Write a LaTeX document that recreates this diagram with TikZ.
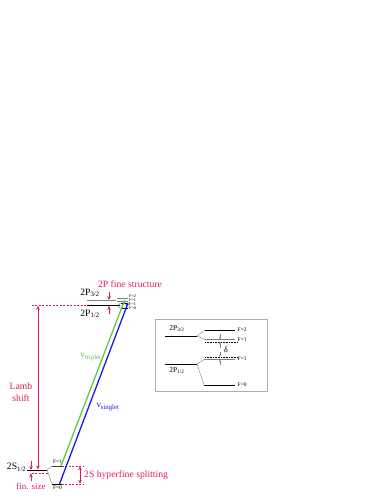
\documentclass[tikz,border=0pt]{standalone}
\usepackage{fontspec}
\setmainfont{Liberation Serif}
\usetikzlibrary{arrows.meta}
\definecolor{lambred}{RGB}{218,32,82}
\definecolor{trigreen}{RGB}{95,200,70}
\definecolor{singblue}{RGB}{25,25,235}
\definecolor{boxgray}{RGB}{175,175,175}
\begin{document}
\begin{tikzpicture}[x=1bp,y=-1bp,
    lvl/.style={line width=0.8pt},
    lvlgray/.style={line width=0.9pt,gray},
    split/.style={line width=0.4pt,gray},
    reddash/.style={dashed,dash pattern=on 2pt off 1.5pt,lambred,line width=0.5pt},
    redarr/.style={lambred,line width=0.7pt,-{Stealth[length=4pt,width=3.6pt]}},
    redboth/.style={lambred,line width=0.7pt,{Stealth[length=4pt,width=3.6pt]}-{Stealth[length=4pt,width=3.6pt]}},
    grayarr/.style={gray,line width=0.4pt,-{Stealth[length=2pt,width=1.8pt]}},
    trans/.style={line width=1.3pt,-{Latex[length=4pt,width=3.2pt]}},
    txt/.style={inner sep=0pt,font=\fontsize{9.7}{11.6}\selectfont},
    flab/.style={inner sep=0pt,font=\fontsize{4.3}{5}\selectfont},
    flabin/.style={inner sep=0pt,font=\fontsize{5.5}{6}\selectfont,anchor=west}]
    \useasboundingbox (0,0) rectangle (385,498);
    \node[txt,text=lambred] (fstitle) at (130,284.5) {2P fine structure};
    \node[txt] (p32lab) at (90,293) {2P\textsubscript{3/2}};
    \node[txt] (p12lab) at (90,314) {2P\textsubscript{1/2}};
    \draw[lvlgray] (87,300) -- (116,300);
    \draw[lvlgray] (117,298.6) coordinate (p32f2a) -- (128,298.6) coordinate (p32f2);
    \draw[lvlgray] (117,301.3) coordinate (p32f1a) -- (128,301.3) coordinate (p32f1);
    \draw[lvl] (87,305.5) -- (120,305.5);
    \draw[split] (120,305.5) .. controls (118,304) .. (121,303.8) -- (128,303.8);
    \draw[split] (120,305.5) .. controls (118,307.8) .. (121,308) -- (128,308);
    \draw[lvl] (121,303.8) -- (128,303.8);
    \draw[lvl] (121,308) -- (128,308);
    \node[flab,anchor=west] (lf2a) at (129,296.3) {F=2};
    \node[flab,anchor=west] (lf1a) at (129,300) {F=1};
    \node[flab,anchor=west] (lf1b) at (129,303.7) {F=1};
    \node[flab,anchor=west] (lf0b) at (129,307.6) {F=0};
    \draw[redarr] (109,291.5) -- (109,300);
    \draw[redarr] (109,313.5) -- (109,305.8);
    \draw[reddash] (32,305.5) -- (87,305.5);
    \draw[redboth] (38,305.8) -- (38,469.5);
    \node[txt,text=lambred,align=center] (lamb) at (21,392) {Lamb\\shift};
    \coordinate (s12a) at (27,470);
    \coordinate (s12b) at (47,470);
    \draw[lvl] (s12a) -- (s12b);
    \node[txt,anchor=east] (s12lab) at (26.5,467.5) {2S\textsubscript{1/2}};
    \draw[split] (s12b) -- (52,466);
    \draw[split] (s12b) -- (52,484);
    \draw[lvl,darkgray] (52,466) -- (62,466) coordinate (sf1);
    \draw[lvl] (52,484) -- (62,484) coordinate (sf0);
    \node[flab,font=\fontsize{5.5}{6}\selectfont] (lsf1) at (57.5,462) {F=1};
    \node[flab,font=\fontsize{5.5}{6}\selectfont] (lsf0) at (57.5,488) {F=0};
    \draw[reddash] (32,473) -- (48,473);
    \draw[redarr] (31,461) -- (31,470);
    \draw[redarr] (31,481) -- (31,473.3);
    \node[txt,text=lambred,font=\fontsize{9}{10}\selectfont] (finsize) at (31,486.5) {fin. size};
    \draw[reddash] (sf1) -- (83,466);
    \draw[reddash] (sf0) -- (83,484);
    \draw[redboth] (80,466.3) -- (80,483.7);
    \node[txt,text=lambred,anchor=west] (hfslab) at (84,475) {2S hyperfine splitting};
    \draw[trans,trigreen] (61,466) -- (125,299.2);
    \draw[trans,singblue] (59.5,484) -- (128.5,301.8);
    \node[txt,text=trigreen] (nutrip) at (91,357) {ν\textsubscript{triplet}};
    \node[txt,text=singblue] (nusing) at (108,407) {ν\textsubscript{singlet}};
    \draw[boxgray,line width=0.6pt] (155,319) rectangle (267,391);
    \node[txt,font=\fontsize{7.5}{9}\selectfont] (ip32lab) at (177,329) {2P\textsubscript{3/2}};
    \node[txt,font=\fontsize{7.5}{9}\selectfont] (ip12lab) at (177,371) {2P\textsubscript{1/2}};
    \draw[lvl] (165,336) -- (197,336);
    \draw[split] (197,336) -- (205,330);
    \draw[split] (197,336) -- (205,339.5);
    \draw[lvl] (205,330) -- (235,330);
    \draw[lvlgray,line width=1.1pt] (205,339.5) -- (235,339.5);
    \draw[densely dotted,line width=0.6pt] (205,342) -- (237,342);
    \draw[grayarr] (220,333.5) -- (220,339.2);
    \draw[grayarr] (220,347.5) -- (220,342.3);
    \node[txt,font=\fontsize{8}{9}\selectfont] (delta) at (226,349.5) {δ};
    \draw[lvl] (165,364) -- (197,364);
    \draw[split] (197,364) -- (204,359.5);
    \draw[split] (197,364) -- (204,385);
    \draw[lvlgray,line width=1.1pt] (204,359.5) -- (235,359.5);
    \draw[densely dotted,line width=0.6pt] (205,357) -- (237,357);
    \draw[grayarr] (220,351.8) -- (220,356.7);
    \draw[grayarr] (220,365) -- (220,359.8);
    \draw[lvl] (204,385) -- (235,385);
    \node[flabin] (if2) at (237.5,330) {F=2};
    \node[flabin] (if1a) at (237.5,340) {F=1};
    \node[flabin] (if1b) at (237.5,359) {F=1};
    \node[flabin] (if0) at (237.5,385) {F=0};
\end{tikzpicture}
\end{document}
